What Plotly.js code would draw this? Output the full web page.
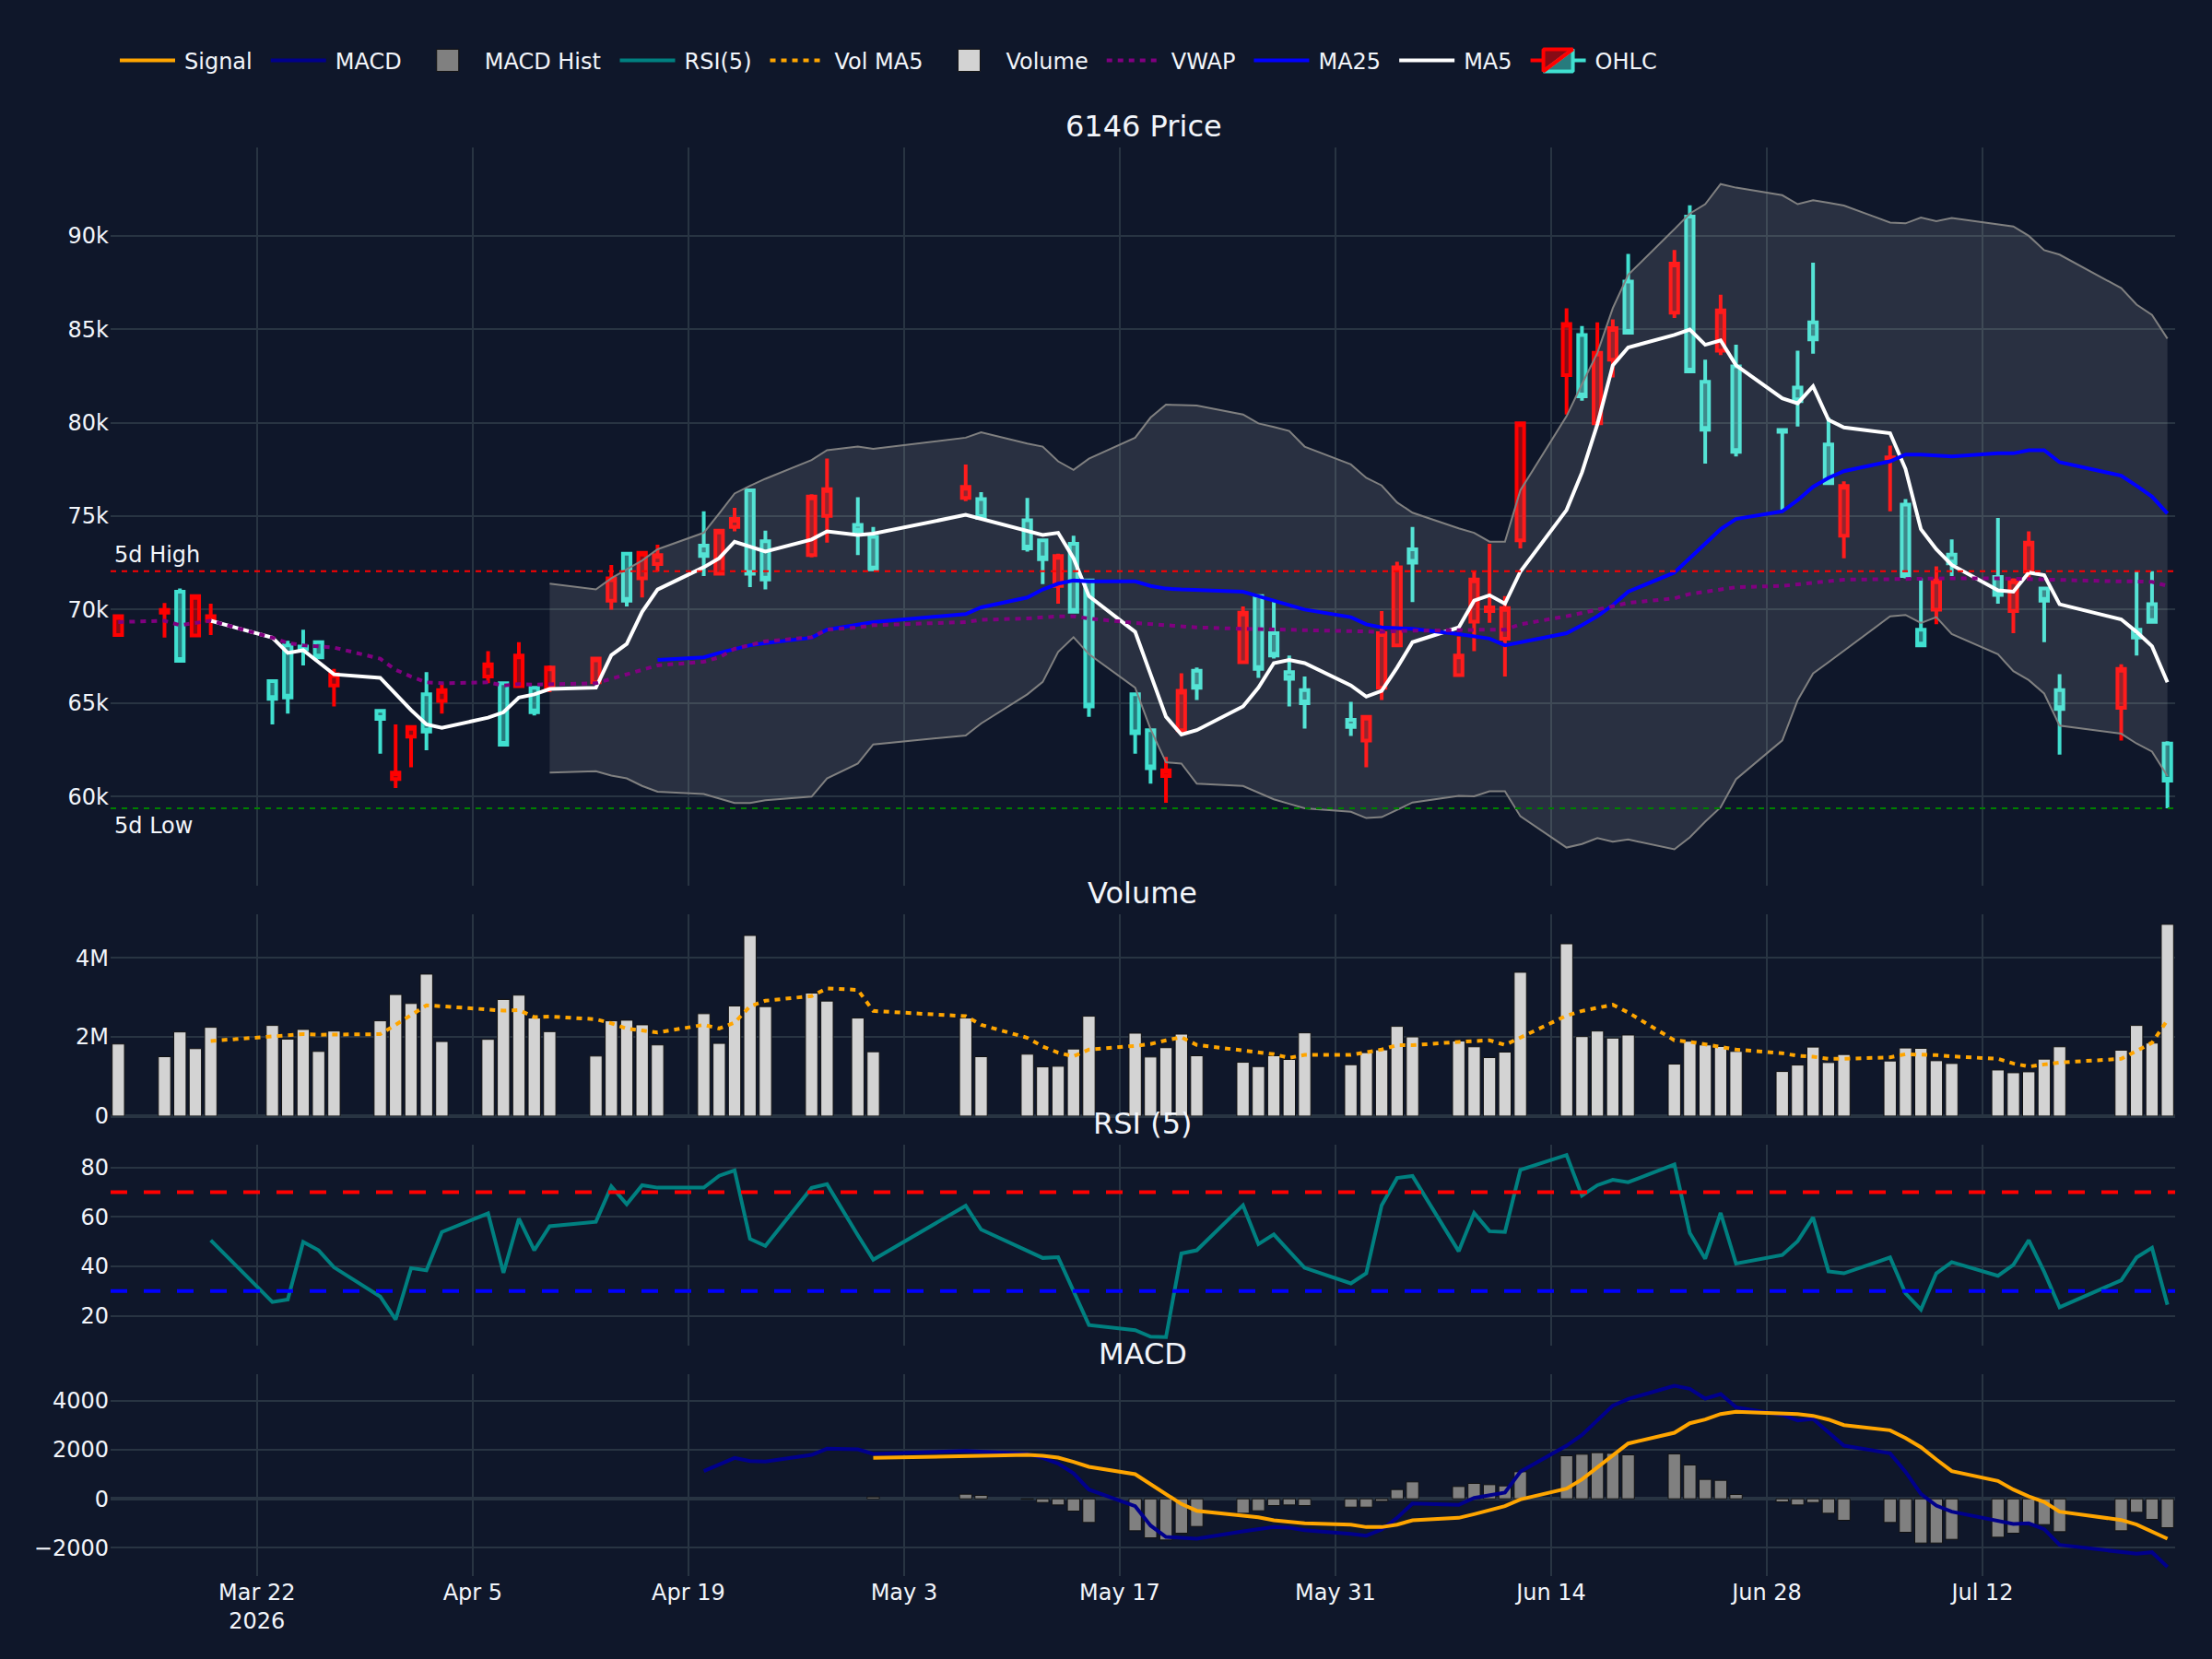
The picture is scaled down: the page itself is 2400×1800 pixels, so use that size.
<!DOCTYPE html>
<html>
<head>
<meta charset="utf-8">
<script src="https://cdn.plot.ly/plotly-3.0.1.min.js"></script>
<style>
html,body{margin:0;padding:0;background:#0f172a;width:2400px;height:1800px;overflow:hidden;}
#wrap{width:1200px;height:900px;transform:scale(2);transform-origin:0 0;}
#chart{width:1200px;height:900px;}
</style>
</head>
<body>
<div id="wrap"><div id="chart"></div></div>
<script>
// ---------- data ----------
const dates = ['2026-03-13','2026-03-16','2026-03-17','2026-03-18','2026-03-19','2026-03-23','2026-03-24','2026-03-25','2026-03-26','2026-03-27',
'2026-03-30','2026-03-31','2026-04-01','2026-04-02','2026-04-03','2026-04-06','2026-04-07','2026-04-08','2026-04-09','2026-04-10',
'2026-04-13','2026-04-14','2026-04-15','2026-04-16','2026-04-17','2026-04-20','2026-04-21','2026-04-22','2026-04-23','2026-04-24',
'2026-04-27','2026-04-28','2026-04-30','2026-05-01','2026-05-07','2026-05-08','2026-05-11','2026-05-12','2026-05-13','2026-05-14',
'2026-05-15','2026-05-18','2026-05-19','2026-05-20','2026-05-21','2026-05-22','2026-05-25','2026-05-26','2026-05-27','2026-05-28',
'2026-05-29','2026-06-01','2026-06-02','2026-06-03','2026-06-04','2026-06-05','2026-06-08','2026-06-09','2026-06-10','2026-06-11',
'2026-06-12','2026-06-15','2026-06-16','2026-06-17','2026-06-18','2026-06-19','2026-06-22','2026-06-23','2026-06-24','2026-06-25',
'2026-06-26','2026-06-29','2026-06-30','2026-07-01','2026-07-02','2026-07-03','2026-07-06','2026-07-07','2026-07-08','2026-07-09',
'2026-07-10','2026-07-13','2026-07-14','2026-07-15','2026-07-16','2026-07-17','2026-07-21','2026-07-22','2026-07-23','2026-07-24'];

// Japanese colouring: red = rising session, turquoise = falling session
const open = [68640,69840,70960,68620,69410,66180,68090,68020,68260,65940,
64580,60930,63200,65470,65110,66420,66060,65900,65820,65820,
66110,70480,72990,71680,72440,73420,71920,74420,76380,73660,
72920,75020,74540,73900,75980,75910,74780,73710,71270,73520,
71560,65470,63550,61090,63550,66730,67190,70720,68740,66660,
65700,64100,63000,65820,68090,73230,66490,69360,69930,68450,
73710,82550,84700,79970,83380,87560,85890,91030,82190,83860,
83020,79610,81880,85370,78840,73950,78100,75620,68930,70000,
72940,71750,69930,72030,71130,65700,64750,68930,70290,62840];

const high = [69720,70360,71130,70750,70320,66180,68330,68930,68260,66830,
64600,63860,63720,66660,66060,67780,66060,68260,65870,67020,
67450,72390,73040,73110,73470,75260,74300,75450,76380,74230,
76170,78080,76020,74420,77770,76290,75980,73710,72990,73950,
71560,65470,63600,62120,66590,66900,70170,70720,70480,67540,
66420,65060,64270,69930,72560,74420,68570,72080,73520,70720,
80040,86130,85170,85370,85530,89040,89240,91630,83380,86850,
84170,79610,83860,88570,80280,76860,78770,75910,71680,72320,
73760,74900,71680,74190,71200,66540,67070,72060,72060,62960];

const low = [68570,68500,67210,68600,68640,63860,64440,67020,67380,64820,
62290,60450,61570,62480,64440,66060,62770,65900,64340,65580,
66060,70000,70170,70650,72030,71800,71920,74190,71200,71080,
72800,73590,72920,72150,75810,74900,73110,71370,70320,69890,
64270,62290,60690,59660,63320,65160,67140,66350,67380,64820,
63630,63240,61570,65160,68090,70410,66420,67780,69290,66420,
73280,80440,81180,79970,82430,84820,85600,82740,77820,83620,
78200,75330,79800,83690,76770,72750,75260,71680,68020,69220,
71800,70320,68740,71560,68260,62240,63000,67540,69290,59370];

const close = [69650,69980,67260,70720,69650,65230,65300,67880,67450,66540,
64150,61280,63720,63480,65700,67070,62770,67540,64510,66900,
67380,71680,70480,73040,72920,72870,74230,74850,71920,71610,
76050,76450,74190,72150,76570,74900,73280,72700,72870,69890,
64820,63390,61520,61400,65660,65820,69840,66830,67540,66300,
64990,63720,64270,68740,72270,72510,67540,71610,70120,70080,
79970,85290,81420,83740,85060,84820,88520,82740,79630,86010,
78440,79520,81160,84460,76770,76620,78150,71800,68090,71560,
72470,70790,71560,73590,70480,64680,66830,68500,69340,60850];

const volume = [1820000,1500000,2125000,1703000,2242000,2289000,1945000,2188000,1633000,2148000,
2406000,3070000,2844000,3586000,1883000,1938000,2945000,3055000,2477000,2133000,
1516000,2406000,2422000,2305000,1797000,2586000,1836000,2781000,4563000,2766000,
3109000,2906000,2477000,1625000,2477000,1500000,1563000,1242000,1258000,1695000,
2523000,2094000,1492000,1727000,2070000,1523000,1359000,1250000,1523000,1430000,
2102000,1297000,1602000,1672000,2266000,2000000,1898000,1750000,1477000,1617000,
3633000,4352000,2008000,2148000,1969000,2047000,1313000,1891000,1797000,1758000,
1633000,1125000,1289000,1742000,1352000,1555000,1391000,1719000,1711000,1398000,
1328000,1164000,1094000,1117000,1438000,1750000,1664000,2289000,1844000,4844000];

// 5-day volume average, from the 5th session (Mar 19)
const volMA5 = [1898000,2016000,2070000,2070000,2055000,2063000,2070000,2305000,2539000,2797000,
2773000,2680000,2664000,2680000,2500000,2516000,2445000,2344000,2211000,2164000,
2109000,2305000,2211000,2359000,2773000,2914000,3031000,3227000,3188000,2656000,
2523000,2305000,1977000,1758000,1602000,1508000,1680000,1773000,1820000,1914000,
1992000,1797000,1641000,1602000,1563000,1469000,1547000,1547000,1602000,1680000,
1789000,1789000,1875000,1898000,1914000,1797000,1992000,2539000,2656000,2734000,
2813000,2617000,1914000,1875000,1820000,1758000,1680000,1586000,1523000,1500000,
1445000,1445000,1484000,1563000,1563000,1539000,1508000,1445000,1328000,1250000,
1305000,1352000,1445000,1641000,1852000,2422000];

// MA5 from Mar 19
const ma5 = [69406,68499,67686,67830,67185,66540,66349,65465,64628,63864,
63673,64222,64509,65297,65465,65752,65823,67567,68164,69884,
71079,72273,72751,73635,73372,73110,73755,74185,73994,74065,
75069,74853,74185,73994,74113,72751,70720,68809,66540,64270,
63315,63554,64820,65823,67137,67304,67137,65943,65345,65656,
66898,68260,69048,70482,70769,70315,72034,75331,77338,79918,
83071,84027,84696,84983,84170,84409,83071,81304,81041,81949,
80157,79751,79440,77529,74304,73229,72393,71030,70959,71986,
71843,70290,69478,68809,68044,66110];

// MA25 from Apr 17
const ma25 = [67304,67448,67687,67925,68093,68212,68499,68929,69167,69335,
69765,70123,70649,71079,71390,71557,71509,71509,71270,71127,
71079,71031,70959,70721,70482,70243,70004,69598,69216,69048,
69024,68977,68690,68571,68451,68093,68260,68738,69167,69645,
70243,70959,71986,72751,73588,74304,74853,75260,75857,76573,
77051,77410,77935,78294,78294,78246,78198,78365,78365,78533,
78533,77888,77171,76621,76048,75140];

const vwap = [69335,69406,69167,69311,69406,68499,68212,68093,68045,67973,
67376,66779,66420,66110,66062,66110,65943,66014,65990,66014,
66062,66301,66540,66779,67018,67209,67448,67902,68093,68308,
68523,68929,69048,69167,69335,69454,69526,69598,69645,69645,
69526,69287,69216,69120,69096,69048,68977,68953,68929,68905,
68905,68881,68857,68810,68857,68881,68929,68929,68929,68929,
69216,69645,69836,70004,70171,70362,70601,70840,70959,71079,
71198,71270,71366,71437,71509,71604,71628,71652,71652,71676,
71676,71676,71652,71628,71604,71557,71509,71509,71485,71270];

// Bollinger band edges from Apr 10
const bbUpper = [71389,71079,71676,72154,72632,73229,74113,75140,76215,76621,
77003,78007,78532,78724,78604,79201,79488,78891,78724,77935,
77481,78079,79201,80277,80969,80945,80921,80444,79966,79775,
79560,78724,77768,77051,76645,75737,75188,74352,74113,73635,
73635,76382,80348,82068,83740,86129,87921,90358,91194,91696,
92771,92580,92174,91696,91911,91767,91624,90716,90669,90979,
90788,90955,90621,90501,90000,89235,88996,87204,86321,85771,
84505];
const bbLower = [61284,61356,61117,60973,60567,60257,60137,59922,59659,59659,
59803,59994,60973,61762,62790,63268,63907,65465,66134,67734,
68523,67615,65823,63601,61833,61762,60687,60567,60209,59850,
59611,59373,59182,58848,58895,59325,59683,60041,60017,60280,
60280,58943,57270,57461,57772,57581,57700,57175,57820,58656,
59421,60925,63004,65154,66587,67185,67782,69645,69717,69287,
69597,68690,67615,66706,66229,65512,63792,63362,62836,62406,
61093];

// RSI(5) from Mar 19
const rsi = [50.6,25.6,26.6,49.9,46.5,39.6,27.8,18.5,39.3,38.4,
53.9,61.4,37.4,59.3,46.5,56.2,58.0,72.3,65.1,72.8,
71.8,71.8,76.6,78.8,51.1,48.3,71.7,73.2,52.6,42.7,
64.5,54.9,46.3,43.4,43.7,30.0,16.3,14.2,11.6,11.4,
45.2,46.5,64.7,49.0,52.9,46.1,39.4,33.1,37.2,64.7,
75.7,76.5,46.1,61.6,54.2,53.9,79.0,85.0,68.6,72.8,
75.0,74.0,81.2,53.5,43.1,61.6,41.1,44.6,50.2,59.8,
38.0,37.2,43.6,29.1,22.5,37.2,41.7,36.2,40.6,50.6,
37.8,23.5,34.4,43.6,47.5,24.5];

// MACD from Apr 20; signal and histogram from May 1
const macd = [1130,1393,1669,1544,1519,1795,2046,2021,1832,1958,
1920,1832,1669,1443,1042,377,-301,-1092,-1556,-1594,
-1632,-1330,-1255,-1155,-1180,-1280,-1431,-1506,-1255,-778,
-188,-251,38,138,251,1104,2171,2610,3238,3803,
4079,4618,4493,4091,4280,3740,3426,3200,3263,2711,
2171,1857,1104,201,-276,-527,-866,-1029,-1004,-1242,
-1883,-2184,-2246,-2184,-2786];
const signal = [1669,1757,1770,1795,1757,1682,1506,1305,1004,602,
226,-213,-489,-653,-753,-879,-966,-1004,-1054,-1155,
-1155,-1054,-879,-778,-628,-464,-301,-25,414,791,
1293,1795,2259,2698,3087,3238,3464,3552,3514,3464,
3389,3238,3012,2799,2485,2108,1606,1130,728,377,
100,-126,-527,-866,-1054,-1318,-1632];
const macdHist = [75,188,138,-20,-150,-251,-502,-966,-1305,-1594,
-1682,-1406,-1130,-590,-489,-276,-251,-276,-339,-339,
-100,377,690,502,628,577,527,1104,1757,1820,
1883,1857,1795,1832,1380,791,753,176,-126,-251,
-150,-590,-879,-966,-1368,-1807,-1807,-1657,-1569,-1406,
-1054,-1054,-1343,-1305,-552,-841,-1180];

const fiveDayHigh = 72060;
const fiveDayLow = 59370;
const rsiUpper = 70, rsiLower = 30;
const titles = ['6146 Price', 'Volume', 'RSI (5)', 'MACD'];

// ---------- traces ----------
const tail = (arr) => dates.slice(dates.length - arr.length);
const barLine = {color: 'rgb(17,17,17)', width: 0.5};

const traces = [
  {type: 'candlestick', name: 'OHLC', x: dates, open: open, high: high, low: low, close: close,
   increasing: {line: {color: 'red'}}, decreasing: {line: {color: 'turquoise'}},
   xaxis: 'x', yaxis: 'y'},
  {type: 'scatter', mode: 'lines', x: tail(bbUpper), y: bbUpper, name: 'BB Upper', showlegend: false,
   line: {color: 'gray', width: 1}, xaxis: 'x', yaxis: 'y', hoverinfo: 'skip'},
  {type: 'scatter', mode: 'lines', x: tail(bbLower), y: bbLower, name: 'BB Lower', showlegend: false,
   line: {color: 'gray', width: 1}, fill: 'tonexty', fillcolor: 'rgba(255,255,255,0.11)',
   xaxis: 'x', yaxis: 'y', hoverinfo: 'skip'},
  {type: 'scatter', mode: 'lines', x: tail(ma5), y: ma5, name: 'MA5',
   line: {color: 'white', width: 2}, xaxis: 'x', yaxis: 'y'},
  {type: 'scatter', mode: 'lines', x: tail(ma25), y: ma25, name: 'MA25',
   line: {color: 'blue', width: 2}, xaxis: 'x', yaxis: 'y'},
  {type: 'scatter', mode: 'lines', x: tail(vwap), y: vwap, name: 'VWAP',
   line: {color: 'purple', width: 2, dash: 'dot'}, xaxis: 'x', yaxis: 'y'},
  {type: 'bar', x: dates, y: volume, name: 'Volume',
   marker: {color: 'lightgray', line: barLine}, xaxis: 'x2', yaxis: 'y2'},
  {type: 'scatter', mode: 'lines', x: tail(volMA5), y: volMA5, name: 'Vol MA5',
   line: {color: 'orange', width: 2, dash: 'dot'}, xaxis: 'x2', yaxis: 'y2'},
  {type: 'scatter', mode: 'lines', x: tail(rsi), y: rsi, name: 'RSI(5)',
   line: {color: 'teal', width: 2}, xaxis: 'x3', yaxis: 'y3'},
  {type: 'bar', x: tail(macdHist), y: macdHist, name: 'MACD Hist',
   marker: {color: 'gray', line: barLine}, xaxis: 'x4', yaxis: 'y4'},
  {type: 'scatter', mode: 'lines', x: tail(macd), y: macd, name: 'MACD',
   line: {color: '#00008b', width: 2}, xaxis: 'x4', yaxis: 'y4'},
  {type: 'scatter', mode: 'lines', x: tail(signal), y: signal, name: 'Signal',
   line: {color: 'orange', width: 2}, xaxis: 'x4', yaxis: 'y4'}
];

// ---------- layout ----------
const grid = {showgrid: true, gridcolor: '#283442', zeroline: true, zerolinecolor: '#283442',
  zerolinewidth: 2, showline: false, ticks: '', automargin: false};
const xCommon = Object.assign({}, grid, {type: 'date', tick0: '2026-03-22', dtick: 14 * 86400000});
const xRange = ['2026-03-12 12:00', '2026-07-24 12:00'];
const domains = [[0.483, 1.0], [0.322, 0.463], [0.161, 0.302], [0.0, 0.141]];

const layout = {
  width: 1200, height: 900,
  paper_bgcolor: '#0f172a', plot_bgcolor: '#0f172a',
  font: {family: 'DejaVu Sans, Verdana, sans-serif', color: '#f2f5fa', size: 12},
  margin: {l: 60, r: 20, t: 80, b: 45},
  showlegend: true,
  legend: {orientation: 'h', x: 0, xanchor: 'left', y: 1.061, yanchor: 'middle',
    traceorder: 'reversed', bgcolor: 'rgba(0,0,0,0)', font: {size: 12}},
  bargap: 0.2,
  xaxis: Object.assign({}, xCommon, {anchor: 'y', range: xRange, showticklabels: false, rangeslider: {visible: false}}),
  xaxis2: Object.assign({}, xCommon, {anchor: 'y2', matches: 'x', range: xRange, showticklabels: false}),
  xaxis3: Object.assign({}, xCommon, {anchor: 'y3', matches: 'x', range: xRange, showticklabels: false}),
  xaxis4: Object.assign({}, xCommon, {anchor: 'y4', matches: 'x', range: xRange, showticklabels: true}),
  yaxis: Object.assign({}, grid, {anchor: 'x', domain: domains[0], range: [55210, 94730], dtick: 5000}),
  yaxis2: Object.assign({}, grid, {anchor: 'x2', domain: domains[1], range: [0, 5090000], dtick: 2000000}),
  yaxis3: Object.assign({}, grid, {anchor: 'x3', domain: domains[2], range: [7.8, 89.2], dtick: 20}),
  yaxis4: Object.assign({}, grid, {anchor: 'x4', domain: domains[3], range: [-3156, 5073], dtick: 2000}),
  shapes: [
    {type: 'line', xref: 'x domain', x0: 0, x1: 1, yref: 'y', y0: fiveDayHigh, y1: fiveDayHigh,
     line: {color: 'red', width: 1, dash: 'dot'}},
    {type: 'line', xref: 'x domain', x0: 0, x1: 1, yref: 'y', y0: fiveDayLow, y1: fiveDayLow,
     line: {color: 'green', width: 1, dash: 'dot'}},
    {type: 'line', xref: 'x3 domain', x0: 0, x1: 1, yref: 'y3', y0: rsiUpper, y1: rsiUpper,
     line: {color: 'red', width: 2, dash: 'dash'}},
    {type: 'line', xref: 'x3 domain', x0: 0, x1: 1, yref: 'y3', y0: rsiLower, y1: rsiLower,
     line: {color: 'blue', width: 2, dash: 'dash'}}
  ],
  annotations: titles.map((t, i) => ({text: t, xref: 'paper', yref: 'paper', x: 0.5, y: domains[i][1],
      xanchor: 'center', yanchor: 'bottom', showarrow: false, font: {size: 16}})).concat([
    {text: '5d High', xref: 'x domain', x: 0, xanchor: 'left', yref: 'y', y: fiveDayHigh, yanchor: 'bottom', showarrow: false},
    {text: '5d Low', xref: 'x domain', x: 0, xanchor: 'left', yref: 'y', y: fiveDayLow, yanchor: 'top', showarrow: false}
  ])
};

Plotly.newPlot('chart', traces, layout, {displayModeBar: false, responsive: false, staticPlot: true});
</script>
</body>
</html>
